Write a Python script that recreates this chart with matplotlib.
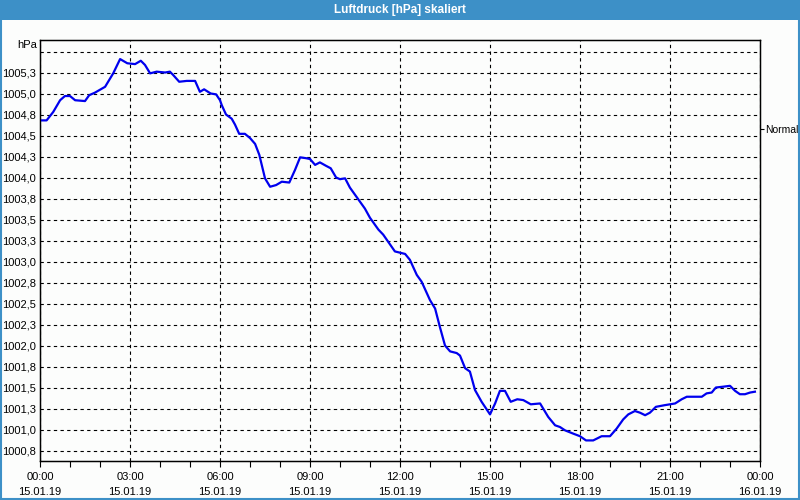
import matplotlib
matplotlib.use("Agg")
import matplotlib.pyplot as plt
from matplotlib.patches import Rectangle

plt.rcParams['font.family'] = ['Liberation Sans', 'DejaVu Sans']

# Luftdruck 15.01.19, Stunden seit 00:00
hours = [0.0, 0.22, 0.44, 0.67, 0.83, 1.0, 1.17, 1.5, 1.64, 1.83, 2.17, 2.44, 2.67, 2.91,
         3.17, 3.36, 3.5, 3.67, 3.89, 4.17, 4.33, 4.44, 4.64, 4.89, 5.17, 5.33, 5.47, 5.69,
         5.87, 6.0, 6.06, 6.2, 6.39, 6.5, 6.64, 6.83, 7.0, 7.17, 7.31, 7.5, 7.67, 7.87, 8.06,
         8.31, 8.5, 8.67, 8.87, 9.0, 9.17, 9.33, 9.53, 9.69, 9.87, 10.0, 10.17, 10.33, 10.61,
         10.83, 11.0, 11.28, 11.44, 11.83, 12.17, 12.33, 12.56, 12.72, 13.0, 13.17, 13.33,
         13.5, 13.67, 13.89, 14.0, 14.17, 14.33, 14.5, 14.72, 15.0, 15.17, 15.33, 15.5, 15.69,
         15.91, 16.11, 16.36, 16.67, 16.94, 17.17, 17.33, 17.5, 17.78, 18.0, 18.2, 18.44,
         18.72, 19.0, 19.22, 19.44, 19.61, 19.83, 20.0, 20.17, 20.33, 20.53, 20.83, 21.17,
         21.39, 21.56, 22.06, 22.22, 22.39, 22.53, 22.78, 23.0, 23.17, 23.33, 23.5, 23.67,
         23.83]
pressure = [1004.68, 1004.68, 1004.78, 1004.92, 1004.97, 1004.97, 1004.92, 1004.91, 1004.98,
            1005.01, 1005.08, 1005.24, 1005.41, 1005.36, 1005.35, 1005.39, 1005.34, 1005.24,
            1005.26, 1005.25, 1005.26, 1005.22, 1005.14, 1005.15, 1005.15, 1005.02, 1005.05,
            1005.00, 1004.99, 1004.92, 1004.86, 1004.75, 1004.70, 1004.63, 1004.52, 1004.52,
            1004.47, 1004.40, 1004.27, 1003.99, 1003.89, 1003.91, 1003.95, 1003.94, 1004.09,
            1004.24, 1004.23, 1004.22, 1004.15, 1004.18, 1004.14, 1004.11, 1004.00, 1003.98,
            1003.99, 1003.88, 1003.74, 1003.63, 1003.52, 1003.38, 1003.32, 1003.12, 1003.09,
            1003.02, 1002.84, 1002.76, 1002.54, 1002.44, 1002.22, 1002.00, 1001.93, 1001.91,
            1001.88, 1001.73, 1001.69, 1001.47, 1001.33, 1001.18, 1001.31, 1001.46, 1001.46,
            1001.33, 1001.36, 1001.35, 1001.30, 1001.31, 1001.15, 1001.05, 1001.03, 1000.99,
            1000.95, 1000.92, 1000.87, 1000.87, 1000.92, 1000.92, 1001.01, 1001.12, 1001.18,
            1001.22, 1001.20, 1001.17, 1001.20, 1001.27, 1001.29, 1001.31, 1001.36, 1001.39,
            1001.39, 1001.43, 1001.44, 1001.50, 1001.51, 1001.52, 1001.46, 1001.42, 1001.42,
            1001.44, 1001.45]

ytick_vals = [1000.75 + 0.25 * i for i in range(20)]
ytick_labels = ["1000,8", "1001,0", "1001,3", "1001,5", "1001,8", "1002,0", "1002,3",
                "1002,5", "1002,8", "1003,0", "1003,3", "1003,5", "1003,8", "1004,0",
                "1004,3", "1004,5", "1004,8", "1005,0", "1005,3", ""]
xtick_vals = [0, 3, 6, 9, 12, 15, 18, 21, 24]
xtick_labels = ["00:00\n15.01.19", "03:00\n15.01.19", "06:00\n15.01.19", "09:00\n15.01.19",
                "12:00\n15.01.19", "15:00\n15.01.19", "18:00\n15.01.19", "21:00\n15.01.19",
                "00:00\n16.01.19"]
normal_level = 1004.58

blue_bar = "#3d90c7"
bg = "#fcfdfc"

fig = plt.figure(figsize=(8, 5), dpi=100, facecolor=bg)

# Fensterrahmen + Titelleiste
fig.patches.append(Rectangle((0, 0.96), 1, 0.04, transform=fig.transFigure,
                             facecolor=blue_bar, edgecolor="none", zorder=0))
fig.patches.append(Rectangle((0.001, 0.002), 0.998, 0.996, transform=fig.transFigure,
                             facecolor="none", edgecolor=blue_bar, lw=1.5, zorder=0))
fig.text(0.5, 0.979, "Luftdruck [hPa] skaliert", color="white", fontweight="bold",
         fontsize=8.5, ha="center", va="center")

ax = fig.add_axes([0.05, 0.078, 0.9, 0.842], facecolor=bg)
ax.plot(hours, pressure, color="#0000ee", lw=1.6, zorder=3)

ax.set_xlim(0, 24)
ax.set_ylim(1000.625, 1005.637)
ax.set_xticks(xtick_vals)
ax.set_xticklabels(xtick_labels, fontsize=8, linespacing=1.6)
ax.set_xticks(range(25), minor=True)
ax.set_yticks(ytick_vals)
ax.set_yticklabels(ytick_labels, fontsize=8)
ax.tick_params(axis="y", length=0, pad=3)
ax.tick_params(axis="x", which="both", length=4, width=0.8, pad=4, direction="out")
ax.grid(True, color="black", linestyle=(0, (3, 3)), linewidth=0.8)
for s in ax.spines.values():
    s.set_linewidth(1.0)

ax.text(-0.004, 1.0, "hPa", transform=ax.transAxes, ha="right", va="top", fontsize=8)

# Markierung "Normal" rechts
ax2 = ax.twinx()
ax2.set_ylim(ax.get_ylim())
ax2.set_yticks([normal_level])
ax2.set_yticklabels(["Normal"], fontsize=7.5)
ax2.tick_params(axis="y", length=3, width=0.8, pad=0.5)

fig.savefig("out.png", dpi=100, facecolor=bg)
